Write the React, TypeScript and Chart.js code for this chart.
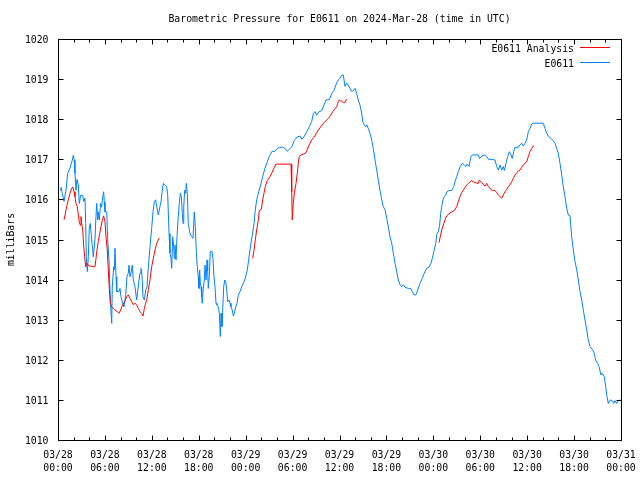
import React, { useEffect, useRef } from "react";
import { Chart, registerables } from "chart.js";

Chart.register(...registerables);

// Hours after 03/28 00:00 UTC, pressure in milliBars
const BLUE_READINGS: [number, number][] = [
  [0.26,1016.23],[0.38,1016.3],[0.55,1016.15],[0.77,1015.95],[1.02,1016.23],[1.24,1016.65],[1.53,1016.78],[1.83,1016.98],
  [1.96,1017.1],[2.08,1016.98],[2.17,1016.65],[2.30,1016.23],[2.43,1016.5],[2.60,1016.36],[2.72,1015.9],[2.90,1016.1],
  [3.16,1016.1],[3.29,1015.95],[3.45,1016.03],[3.54,1015.4],[3.62,1014.57],[3.75,1014.2],[3.88,1014.57],[4.00,1015.29],
  [4.13,1015.4],[4.31,1014.99],[4.44,1014.74],[4.51,1014.57],[4.73,1015.0],[4.82,1015.44],[4.95,1015.9],[5.08,1015.49],
  [5.15,1015.69],[5.28,1015.49],[5.46,1015.9],[5.59,1015.82],[5.72,1016.07],[5.84,1016.19],[5.92,1015.94],[6.01,1015.69],
  [6.23,1015.69],[6.36,1014.99],[6.52,1014.49],[6.65,1013.74],[6.74,1013.32],[6.87,1012.91],[6.94,1013.82],[7.12,1014.32],
  [7.20,1014.24],[7.29,1014.78],[7.42,1014.07],[7.51,1013.7],[7.80,1013.7],[7.93,1013.78],[8.06,1013.57],[8.27,1013.41],
  [8.44,1013.32],[8.66,1013.62],[8.82,1014.07],[8.99,1014.16],[9.08,1014.36],[9.21,1014.07],[9.34,1014.16],[9.50,1014.36],
  [9.63,1013.99],[9.85,1013.82],[10.06,1013.49],[10.19,1013.7],[10.36,1013.99],[10.49,1014.16],[10.61,1014.28],[10.74,1014.11],
  [10.87,1013.57],[11.04,1013.49],[11.22,1013.74],[11.38,1013.82],[11.55,1014.3],[11.77,1014.82],[11.98,1015.28],[12.15,1015.69],
  [12.32,1015.94],[12.49,1015.99],[12.62,1015.82],[12.83,1015.61],[13.04,1015.82],[13.17,1015.94],[13.34,1016.23],[13.47,1016.4],
  [13.68,1016.36],[13.90,1016.32],[14.03,1016.11],[14.20,1015.15],[14.32,1014.66],[14.45,1014.53],[14.54,1014.28],[14.67,1015.07],
  [14.80,1014.82],[14.87,1014.53],[14.96,1014.86],[15.09,1014.49],[15.22,1015.07],[15.35,1015.49],[15.51,1015.9],[15.64,1016.15],
  [15.77,1016.07],[15.90,1015.65],[15.99,1015.4],[16.08,1015.82],[16.20,1016.23],[16.33,1016.15],[16.41,1016.4],[16.54,1016.15],
  [16.66,1015.4],[16.84,1015.19],[16.97,1015.11],[17.10,1015.07],[17.26,1015.03],[17.35,1015.36],[17.43,1015.69],[17.56,1015.32],
  [17.69,1014.7],[17.81,1014.32],[17.94,1014.07],[18.03,1013.78],[18.12,1014.24],[18.20,1013.91],[18.29,1013.82],[18.38,1013.57],
  [18.45,1013.41],[18.58,1013.78],[18.71,1013.99],[18.80,1014.36],[18.93,1013.99],[19.06,1014.49],[19.14,1014.24],[19.22,1013.78],
  [19.35,1014.07],[19.48,1014.7],[19.69,1014.7],[19.82,1014.53],[19.95,1014.07],[20.08,1013.82],[20.21,1013.41],[20.33,1013.37],
  [20.50,1013.32],[20.63,1013.16],[20.76,1012.58],[20.85,1013.16],[20.97,1012.83],[21.06,1013.24],[21.19,1013.82],[21.32,1013.99],
  [21.45,1013.95],[21.58,1013.74],[21.70,1013.45],[21.87,1013.49],[22.00,1013.41],[22.12,1013.32],[22.29,1013.24],[22.42,1013.09],
  [22.55,1013.16],[22.73,1013.32],[22.89,1013.41],[23.06,1013.62],[23.28,1013.7],[23.49,1013.82],[23.70,1013.91],[23.88,1013.99],
  [24.21,1014.24],[24.55,1014.74],[24.81,1015.07],[25.07,1015.4],[25.23,1015.74],[25.41,1015.99],[25.67,1016.19],[25.92,1016.36],
  [26.18,1016.57],[26.47,1016.78],[26.77,1016.94],[27.02,1017.07],[27.37,1017.2],[27.75,1017.2],[27.97,1017.25],[28.30,1017.3],
  [28.74,1017.3],[29.03,1017.27],[29.32,1017.2],[29.58,1017.25],[29.89,1017.31],[30.22,1017.47],[30.60,1017.56],[30.95,1017.58],
  [31.20,1017.5],[31.46,1017.56],[31.81,1017.69],[32.14,1017.81],[32.44,1017.94],[32.65,1018.14],[32.87,1018.19],[33.08,1018.1],
  [33.38,1018.19],[33.72,1018.21],[33.93,1018.31],[34.27,1018.48],[34.70,1018.49],[35.00,1018.64],[35.30,1018.72],[35.64,1018.91],
  [35.85,1018.98],[36.06,1019.02],[36.28,1019.1],[36.49,1019.1],[36.70,1018.82],[36.92,1018.9],[37.13,1018.85],[37.34,1018.77],
  [37.56,1018.69],[37.77,1018.71],[37.98,1018.77],[38.20,1018.64],[38.40,1018.48],[38.62,1018.35],[38.84,1018.15],[38.97,1017.94],
  [39.17,1017.86],[39.35,1017.81],[39.48,1017.86],[39.68,1017.77],[39.90,1017.65],[40.12,1017.48],[40.32,1017.27],[40.54,1016.98],
  [40.76,1016.73],[40.96,1016.48],[41.18,1016.23],[41.40,1015.99],[41.60,1015.82],[41.82,1015.74],[42.04,1015.53],[42.24,1015.32],
  [42.46,1015.07],[42.68,1014.9],[42.88,1014.66],[43.10,1014.41],[43.32,1014.2],[43.52,1013.99],[43.74,1013.87],[43.95,1013.82],
  [44.16,1013.87],[44.38,1013.81],[44.80,1013.78],[45.11,1013.78],[45.31,1013.7],[45.53,1013.62],[45.78,1013.62],[46.00,1013.74],
  [46.30,1013.91],[46.59,1014.03],[46.84,1014.16],[47.15,1014.28],[47.45,1014.31],[47.70,1014.41],[47.87,1014.53],[48.12,1014.74],
  [48.30,1014.9],[48.47,1015.15],[48.63,1015.19],[48.81,1015.36],[48.94,1015.65],[49.07,1015.82],[49.24,1015.99],[49.40,1016.07],
  [49.58,1016.11],[49.75,1016.19],[50.00,1016.22],[50.35,1016.22],[50.60,1016.32],[50.77,1016.44],[50.99,1016.57],[51.19,1016.69],
  [51.45,1016.82],[51.71,1016.9],[51.96,1016.86],[52.14,1016.82],[52.34,1016.88],[52.56,1016.82],[52.82,1017.07],[52.98,1017.11],
  [53.33,1017.11],[53.75,1017.11],[53.93,1017.02],[54.19,1017.08],[54.52,1017.11],[54.83,1017.07],[55.03,1017.0],[55.47,1017.0],
  [55.89,1016.98],[56.11,1016.82],[56.31,1016.73],[56.53,1016.86],[56.74,1016.73],[56.95,1016.82],[57.08,1016.72],[57.29,1016.9],
  [57.51,1017.07],[57.72,1017.19],[57.93,1017.11],[58.10,1017.02],[58.28,1017.19],[58.44,1017.3],[58.87,1017.3],[59.08,1017.36],
  [59.30,1017.4],[59.51,1017.33],[59.72,1017.4],[59.94,1017.48],[60.15,1017.69],[60.36,1017.77],[60.58,1017.88],[60.78,1017.9],
  [62.06,1017.9],[62.28,1017.77],[62.50,1017.65],[62.70,1017.58],[63.05,1017.52],[63.34,1017.46],[63.56,1017.4],[63.78,1017.27],
  [63.98,1017.15],[64.20,1016.9],[64.42,1016.61],[64.62,1016.32],[64.84,1016.07],[65.06,1015.78],[65.26,1015.61],[65.48,1015.59],
  [65.69,1015.07],[65.90,1014.74],[66.12,1014.45],[66.34,1014.24],[66.54,1013.99],[66.76,1013.7],[66.98,1013.49],[67.18,1013.24],
  [67.40,1012.99],[67.62,1012.74],[67.82,1012.49],[68.04,1012.33],[68.33,1012.26],[68.59,1012.16],[68.76,1011.99],[69.02,1011.91],
  [69.19,1011.83],[69.44,1011.62],[69.61,1011.66],[69.86,1011.58],[70.04,1011.33],[70.21,1011.08],[70.38,1010.91],[70.63,1011.0],
  [70.89,1010.98],[71.07,1010.91],[71.23,1010.98],[71.45,1010.91],[71.66,1010.98],[71.94,1011.0],
];

const RED_READINGS: [number, number | null][] = [
  [0.77,1015.49],[0.90,1015.61],[1.11,1015.82],[1.32,1015.99],[1.53,1016.15],[1.75,1016.28],[1.92,1016.3],[2.05,1016.19],
  [2.17,1016.07],[2.30,1015.9],[2.47,1015.82],[2.60,1015.61],[2.72,1015.44],[2.85,1015.36],[2.94,1015.57],[3.03,1015.4],
  [3.16,1015.24],[3.29,1014.82],[3.41,1014.57],[3.54,1014.32],[3.67,1014.41],[3.88,1014.36],[4.09,1014.34],[4.51,1014.32],
  [4.73,1014.32],[4.86,1014.53],[4.99,1014.74],[5.15,1014.95],[5.33,1015.15],[5.50,1015.32],[5.67,1015.49],[5.84,1015.59],
  [6.01,1015.44],[6.14,1015.07],[6.30,1014.74],[6.43,1014.24],[6.56,1013.78],[6.69,1013.41],[6.87,1013.32],[7.07,1013.28],
  [7.29,1013.24],[7.58,1013.2],[7.80,1013.16],[8.02,1013.24],[8.15,1013.32],[8.35,1013.39],[8.57,1013.47],[8.79,1013.57],
  [8.99,1013.62],[9.21,1013.53],[9.42,1013.45],[9.63,1013.37],[9.85,1013.41],[10.06,1013.37],[10.27,1013.28],[10.49,1013.2],
  [10.70,1013.16],[10.87,1013.09],[11.04,1013.28],[11.22,1013.41],[11.38,1013.53],[11.55,1013.75],[11.77,1014.0],[11.98,1014.32],
  [12.19,1014.53],[12.41,1014.74],[12.62,1014.9],[12.83,1014.99],[12.96,1015.04],
  [18.0,null],
  [24.90,1014.53],[25.07,1014.74],[25.23,1014.99],[25.41,1015.24],[25.62,1015.49],[25.74,1015.72],[26.00,1015.75],[26.18,1015.99],
  [26.34,1016.15],[26.51,1016.32],[26.77,1016.47],[27.11,1016.57],[27.37,1016.67],[27.62,1016.78],[27.88,1016.88],[29.80,1016.88],
  [29.89,1016.19],[29.96,1015.49],[30.09,1015.9],[30.22,1016.15],[30.44,1016.4],[30.60,1016.65],[30.73,1016.9],[30.86,1017.07],
  [31.08,1017.11],[31.37,1017.13],[31.63,1017.15],[31.81,1017.21],[32.01,1017.31],[32.23,1017.4],[32.44,1017.48],[32.74,1017.55],
  [32.99,1017.63],[33.29,1017.73],[33.60,1017.81],[33.93,1017.9],[34.27,1017.96],[34.57,1018.02],[34.88,1018.1],[35.13,1018.19],
  [35.42,1018.26],[35.64,1018.31],[35.85,1018.44],[35.97,1018.48],[36.28,1018.44],[36.49,1018.42],[36.70,1018.42],[36.92,1018.5],
  [42.0,null],
  [48.72,1014.92],[48.89,1015.07],[49.07,1015.24],[49.28,1015.36],[49.49,1015.49],[49.71,1015.59],[50.00,1015.64],[50.35,1015.69],
  [50.68,1015.72],[50.99,1015.82],[51.19,1015.94],[51.41,1016.07],[51.63,1016.17],[51.83,1016.23],[52.05,1016.3],[52.27,1016.36],
  [52.47,1016.4],[52.69,1016.44],[52.90,1016.47],[53.11,1016.44],[53.33,1016.42],[53.75,1016.4],[53.88,1016.48],[54.10,1016.44],
  [54.39,1016.38],[54.61,1016.33],[54.83,1016.4],[55.03,1016.32],[55.25,1016.28],[55.47,1016.23],[55.89,1016.22],[56.11,1016.17],
  [56.31,1016.11],[56.53,1016.07],[56.74,1016.03],[56.95,1016.11],[57.17,1016.19],[57.38,1016.25],[57.59,1016.32],[57.80,1016.36],
  [58.02,1016.44],[58.22,1016.52],[58.44,1016.61],[58.87,1016.71],[59.08,1016.73],[59.30,1016.8],[59.51,1016.86],[59.72,1016.9],
  [59.94,1016.94],[60.15,1017.07],[60.36,1017.19],[60.58,1017.27],[60.78,1017.33],[60.91,1017.33],
];

const X_MAJOR_HOURS = [0, 6, 12, 18, 24, 30, 36, 42, 48, 54, 60, 66, 72];
const X_TICK_LABELS = [
  ["03/28", "00:00"], ["03/28", "06:00"], ["03/28", "12:00"], ["03/28", "18:00"],
  ["03/29", "00:00"], ["03/29", "06:00"], ["03/29", "12:00"], ["03/29", "18:00"],
  ["03/30", "00:00"], ["03/30", "06:00"], ["03/30", "12:00"], ["03/30", "18:00"],
  ["03/31", "00:00"],
];
const Y_TICKS = [1010, 1011, 1012, 1013, 1014, 1015, 1016, 1017, 1018, 1019, 1020];
const TITLE = "Barometric Pressure for E0611 on 2024-Mar-28 (time in UTC)";
const Y_TITLE = "milliBars";
const SERIES_NAMES = ["E0611 Analysis", "E0611"];
const SERIES_COLORS = ["#ff0000", "#0080ff"];

const FONT = '9.8px "DejaVu Sans Mono", "Liberation Mono", monospace';

const framePlugin = {
  id: "gnuFrame",
  afterDraw(chart: any) {
    const ctx = chart.ctx as CanvasRenderingContext2D;
    const { left, right, top, bottom } = chart.chartArea;
    const xs = chart.scales.x;
    const ys = chart.scales.y;
    const L = Math.round(left) + 0.5;
    const R = Math.round(right) + 0.5;
    const T = Math.round(top) + 0.5;
    const B = Math.round(bottom) + 0.5;
    ctx.save();
    ctx.strokeStyle = "#000";
    ctx.lineWidth = 1;
    ctx.beginPath();
    ctx.rect(L, T, R - L, B - T);
    ctx.stroke();

    ctx.fillStyle = "#000";
    ctx.font = FONT;

    // y ticks
    ctx.textAlign = "right";
    ctx.textBaseline = "middle";
    Y_TICKS.forEach((v) => {
      const py = Math.round(ys.getPixelForValue(v)) + 0.5;
      ctx.beginPath();
      ctx.moveTo(L, py); ctx.lineTo(L + 5, py);
      ctx.moveTo(R, py); ctx.lineTo(R - 5, py);
      ctx.stroke();
      ctx.fillText(String(v), L - 10, py + 1);
    });

    // x ticks: minor every 2h, major every 6h
    for (let h = 0; h <= 72; h += 2) {
      const px = Math.round(xs.getPixelForValue(h)) + 0.5;
      const len = h % 6 === 0 ? 5 : 3;
      ctx.beginPath();
      ctx.moveTo(px, B); ctx.lineTo(px, B - len);
      ctx.moveTo(px, T); ctx.lineTo(px, T + len);
      ctx.stroke();
    }
    ctx.textAlign = "center";
    X_MAJOR_HOURS.forEach((h, i) => {
      const px = xs.getPixelForValue(h);
      ctx.fillText(X_TICK_LABELS[i][0], px, 455);
      ctx.fillText(X_TICK_LABELS[i][1], px, 468);
    });

    // title
    ctx.fillText(TITLE, (left + right) / 2, 19);

    // y title
    ctx.save();
    ctx.translate(11, (top + bottom) / 2);
    ctx.rotate(-Math.PI / 2);
    ctx.fillText(Y_TITLE, 0, 0);
    ctx.restore();

    // legend
    ctx.textAlign = "right";
    SERIES_NAMES.forEach((name, i) => {
      const y = 48 + i * 15;
      ctx.fillStyle = "#000";
      ctx.fillText(name, 574, y + 1);
      ctx.strokeStyle = SERIES_COLORS[i];
      ctx.beginPath();
      ctx.moveTo(580, y - 0.5);
      ctx.lineTo(610, y - 0.5);
      ctx.stroke();
    });
    ctx.restore();
  },
};

export default function App() {
  const ref = useRef<HTMLCanvasElement | null>(null);
  useEffect(() => {
    if (!ref.current) return;
    const chart = new Chart(ref.current, {
      type: "line",
      data: {
        datasets: [
          {
            label: SERIES_NAMES[0],
            data: RED_READINGS.map(([x, y]) => ({ x, y })),
            borderColor: SERIES_COLORS[0],
            borderWidth: 1,
            pointRadius: 0,
            spanGaps: false,
            tension: 0,
          },
          {
            label: SERIES_NAMES[1],
            data: BLUE_READINGS.map(([x, y]) => ({ x, y })),
            borderColor: SERIES_COLORS[1],
            borderWidth: 1,
            pointRadius: 0,
            tension: 0,
          },
        ],
      },
      options: {
        animation: false,
        responsive: false,
        events: [],
        layout: { padding: { left: 58, right: 19, top: 39, bottom: 40 } },
        plugins: { legend: { display: false }, tooltip: { enabled: false }, title: { display: false } },
        scales: {
          x: { type: "linear", min: 0, max: 72, display: false },
          y: { type: "linear", min: 1010, max: 1020, display: false },
        },
      },
      plugins: [framePlugin],
    });
    return () => chart.destroy();
  }, []);
  return (
    <div style={{ position: "absolute", left: 0, top: 0, width: 640, height: 480, background: "#fff" }}>
      <canvas ref={ref} width={640} height={480} style={{ width: 640, height: 480 }} />
    </div>
  );
}
